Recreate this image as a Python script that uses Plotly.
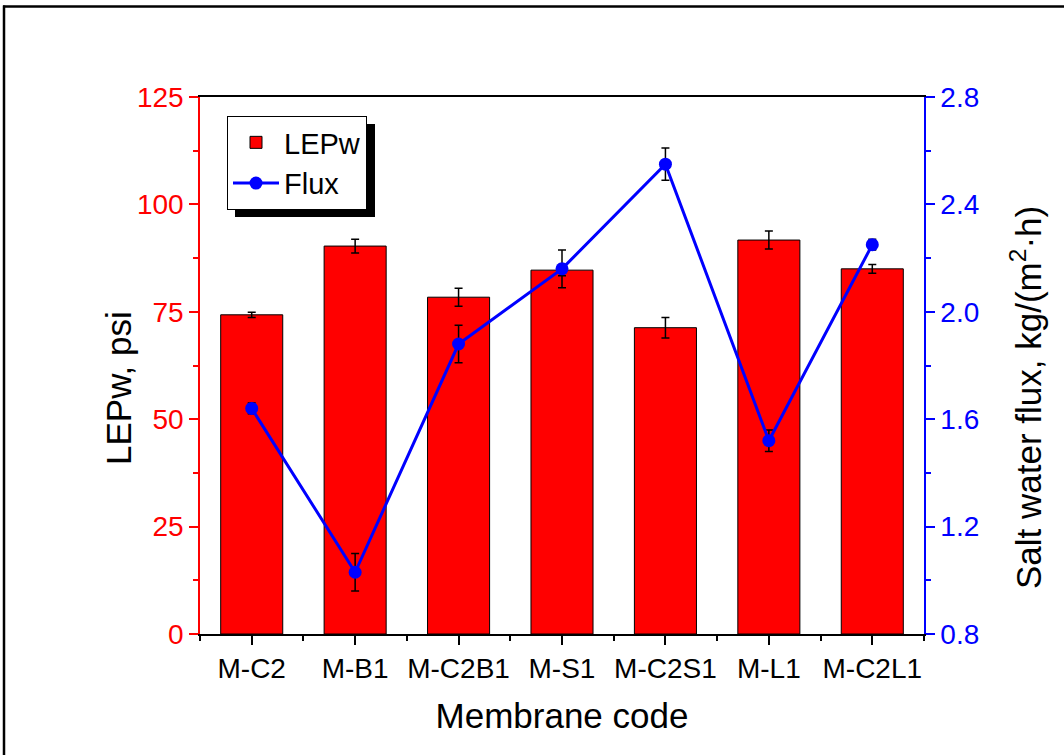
import plotly.graph_objects as go

categories = ["M-C2", "M-B1", "M-C2B1", "M-S1", "M-C2S1", "M-L1", "M-C2L1"]
lepw = [74.3, 90.3, 78.4, 84.7, 71.3, 91.7, 85.0]
lepw_err = [0.6, 1.6, 2.1, 1.3, 2.4, 2.1, 1.0]
flux = [1.64, 1.03, 1.88, 2.16, 2.55, 1.52, 2.25]
flux_err = [0.02, 0.07, 0.07, 0.07, 0.06, 0.04, 0.02]

xpos = list(range(len(categories)))
minor_pos = [i - 0.5 for i in range(len(categories) + 1)]

FONT = "Liberation Sans, Arial, sans-serif"

fig = go.Figure()
fig.add_trace(go.Bar(
    x=xpos, y=lepw, name="LEPw", width=0.6,
    marker=dict(color="#FF0000", line=dict(color="black", width=1)),
    error_y=dict(type="data", array=lepw_err, color="black", thickness=1.5, width=4),
))
fig.add_trace(go.Scatter(
    x=xpos, y=flux, name="Flux", yaxis="y2", mode="lines+markers",
    line=dict(color="#0000FF", width=3),
    marker=dict(color="#0000FF", size=13),
    error_y=dict(type="data", array=flux_err, color="black", thickness=1.5, width=4),
))

L, R, T, B = 200, 140, 97, 121
W, H = 1064, 755
pw, ph = W - L - R, H - T - B

def px(x):
    return (x - L) / pw

def py(y):
    return (H - B - y) / ph

fig.update_layout(
    width=W, height=H,
    margin=dict(l=L, r=R, t=T, b=B, pad=0),
    paper_bgcolor="white", plot_bgcolor="white",
    font=dict(family=FONT, color="black"),
    showlegend=True,
    legend=dict(
        x=px(227), y=py(116), xanchor="left", yanchor="top",
        bgcolor="white", bordercolor="black", borderwidth=1,
        font=dict(size=29, family=FONT, color="black"),
        itemwidth=46, tracegroupgap=0,
    ),
    xaxis=dict(
        range=[-0.5, 6.5], tickmode="array", tickvals=xpos, ticktext=categories,
        ticks="outside", ticklen=9, tickwidth=1.5, tickcolor="black",
        showline=True, linecolor="black", linewidth=1.5, mirror=True,
        showgrid=False, zeroline=False,
        tickfont=dict(size=28, color="black"),
        minor=dict(tickmode="array", tickvals=minor_pos, ticks="outside", ticklen=5,
                   tickwidth=1.5, tickcolor="black", showgrid=False),
        title=dict(text="Membrane code", font=dict(size=35, color="black"), standoff=20),
    ),
    yaxis=dict(
        range=[0, 125], dtick=25, tick0=0,
        ticks="outside", ticklen=9, tickwidth=1.5, tickcolor="#FF0000",
        showline=True, linecolor="#FF0000", linewidth=1.5,
        showgrid=False, zeroline=False,
        tickfont=dict(size=28, color="#FF0000"),
        minor=dict(dtick=12.5, tick0=0, ticks="outside", ticklen=5, tickwidth=1.5,
                   tickcolor="#FF0000", showgrid=False),
    ),
    yaxis2=dict(
        overlaying="y", side="right",
        range=[0.8, 2.8], dtick=0.4, tick0=0.8, tickformat=".1f",
        ticks="outside", ticklen=9, tickwidth=1.5, tickcolor="#0000FF",
        showline=True, linecolor="#0000FF", linewidth=1.5,
        showgrid=False, zeroline=False,
        tickfont=dict(size=28, color="#0000FF"),
        minor=dict(dtick=0.2, tick0=0.8, ticks="outside", ticklen=5, tickwidth=1.5,
                   tickcolor="#0000FF", showgrid=False),
    ),
    annotations=[
        dict(text="LEPw, psi", xref="paper", yref="paper", x=px(119), y=py(388),
             textangle=-90, showarrow=False, xanchor="center", yanchor="middle",
             font=dict(size=35, color="black", family=FONT)),
        dict(text="Salt water flux, kg/(m<sup>2</sup>·h)", xref="paper", yref="paper",
             x=px(1026), y=py(398), textangle=-90, showarrow=False,
             xanchor="center", yanchor="middle",
             font=dict(size=35, color="black", family=FONT)),
    ],
    shapes=[
        # legend shadow
        dict(type="rect", xref="paper", yref="paper",
             x0=px(235), x1=px(375), y0=py(217), y1=py(124),
             fillcolor="black", line=dict(width=0), layer="above"),
        # outer frame (top and left)
        dict(type="line", xref="paper", yref="paper",
             x0=px(3), x1=px(1064), y0=py(6.5), y1=py(6.5),
             line=dict(color="black", width=2.5)),
        dict(type="line", xref="paper", yref="paper",
             x0=px(4), x1=px(4), y0=py(5.5), y1=py(755),
             line=dict(color="black", width=2.5)),
    ],
)

fig.write_html("out.html")
